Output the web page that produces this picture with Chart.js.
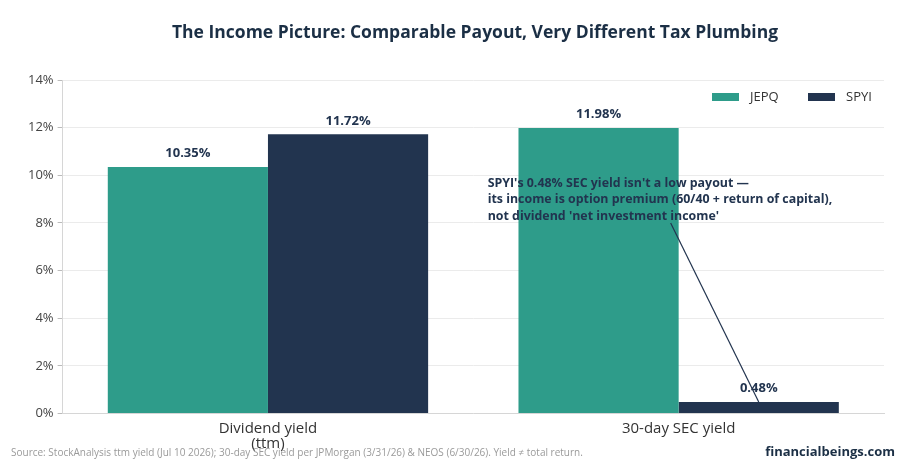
<!DOCTYPE html>
<html>
<head>
<meta charset="utf-8">
<script src="https://cdn.jsdelivr.net/npm/chart.js@4.4.1/dist/chart.umd.min.js"></script>
<style>
  html, body { margin: 0; padding: 0; background: #fff; }
  #wrap { width: 906px; height: 470px; }
</style>
</head>
<body>
<div id="wrap"><canvas id="incomeChart" width="906" height="470"></canvas></div>
<script>
const categories = [["Dividend yield", "(ttm)"], "30-day SEC yield"];
const jepqValues = [10.35, 11.98];
const spyiValues = [11.72, 0.48];
const seriesNames = ["JEPQ", "SPYI"];
const yTicks = [0, 2, 4, 6, 8, 10, 12, 14];

const FONT = "'Open Sans', 'Noto Sans', sans-serif";
const NAVY = "#22344f";
const TEAL = "#2e9c8a";

const noteLines = [
  "SPYI's 0.48% SEC yield isn't a low payout \u2014",
  "its income is option premium (60/40 + return of capital),",
  "not dividend 'net investment income'",
];

const extrasPlugin = {
  id: "extras",
  afterDatasetsDraw(chart) {
    const ctx = chart.ctx;
    ctx.save();
    // value labels
    ctx.font = `bold 13px ${FONT}`;
    ctx.fillStyle = NAVY;
    ctx.textAlign = "center";
    ctx.textBaseline = "bottom";
    chart.data.datasets.forEach((ds, i) => {
      chart.getDatasetMeta(i).data.forEach((bar, j) => {
        ctx.fillText(ds.data[j].toFixed(2) + "%", bar.x, bar.y - 7);
      });
    });

    // annotation
    const xs = chart.scales.x;
    const ys = chart.scales.y;
    const tx = xs.getPixelForValue(1) - 191;
    ctx.textAlign = "left";
    ctx.textBaseline = "middle";
    ctx.font = `bold 12.4px ${FONT}`;
    noteLines.forEach((l, k) => ctx.fillText(l, tx, ys.getPixelForValue(9.67) + k * 16.5));

    const target = chart.getDatasetMeta(1).data[1];
    ctx.strokeStyle = NAVY;
    ctx.lineWidth = 1.2;
    ctx.beginPath();
    ctx.moveTo(xs.getPixelForValue(1) - 8, ys.getPixelForValue(8.0));
    ctx.lineTo(target.x, target.y);
    ctx.stroke();

    // legend inside plot area, top right
    const area = chart.chartArea;
    ctx.font = `13px ${FONT}`;
    ctx.textBaseline = "middle";
    let lx = area.right - 172;
    const ly = area.top + 17;
    chart.data.datasets.forEach((ds) => {
      ctx.fillStyle = ds.backgroundColor;
      ctx.fillRect(lx, ly - 4, 27, 8);
      ctx.fillStyle = "#333";
      ctx.fillText(ds.label, lx + 38, ly);
      lx += 96;
    });
    ctx.restore();
  },
  afterDraw(chart) {
    const ctx = chart.ctx;
    ctx.save();
    ctx.fillStyle = "#1b2f45";
    ctx.textAlign = "center";
    ctx.textBaseline = "middle";
    ctx.font = `bold 17.5px ${FONT}`;
    ctx.fillText("The Income Picture: Comparable Payout, Very Different Tax Plumbing", 475, 33);

    ctx.textAlign = "left";
    ctx.font = `10px ${FONT}`;
    ctx.fillStyle = "#9a9a9a";
    ctx.fillText("Source: StockAnalysis ttm yield (Jul 10 2026); 30-day SEC yield per JPMorgan (3/31/26) & NEOS (6/30/26). Yield \u2260 total return.", 11, 453);

    ctx.textAlign = "right";
    ctx.font = `bold 13px ${FONT}`;
    ctx.fillStyle = "#1b2f45";
    ctx.fillText("financialbeings.com", 895, 452);
    ctx.restore();
  },
};

new Chart(document.getElementById("incomeChart"), {
  type: "bar",
  data: {
    labels: categories,
    datasets: [
      { label: seriesNames[0], data: jepqValues, backgroundColor: TEAL },
      { label: seriesNames[1], data: spyiValues, backgroundColor: NAVY },
    ],
  },
  options: {
    responsive: false,
    animation: false,
    devicePixelRatio: 1,
    layout: { padding: { top: 80, right: 22, bottom: 16, left: 24 } },
    datasets: { bar: { categoryPercentage: 0.78, barPercentage: 1.0 } },
    plugins: {
      title: { display: false },
      tooltip: { enabled: false },
      legend: { display: false },
    },
    scales: {
      x: {
        grid: { display: false, drawTicks: true, tickLength: 5 },
        border: { color: "#d6d6d6" },
        ticks: { color: "#333", font: { family: FONT, size: 15, lineHeight: 1.05 }, padding: 2 },
      },
      y: {
        min: 0,
        max: 14,
        afterBuildTicks(axis) {
          axis.ticks = yTicks.map((v) => ({ value: v }));
        },
        grid: { color: "#ebebeb", tickLength: 5, tickColor: "#bbb" },
        border: { color: "#d6d6d6" },
        ticks: {
          color: "#444",
          font: { family: FONT, size: 13 },
          padding: 4,
          callback: (v) => v + "%",
        },
      },
    },
  },
  plugins: [extrasPlugin],
});
</script>
</body>
</html>
